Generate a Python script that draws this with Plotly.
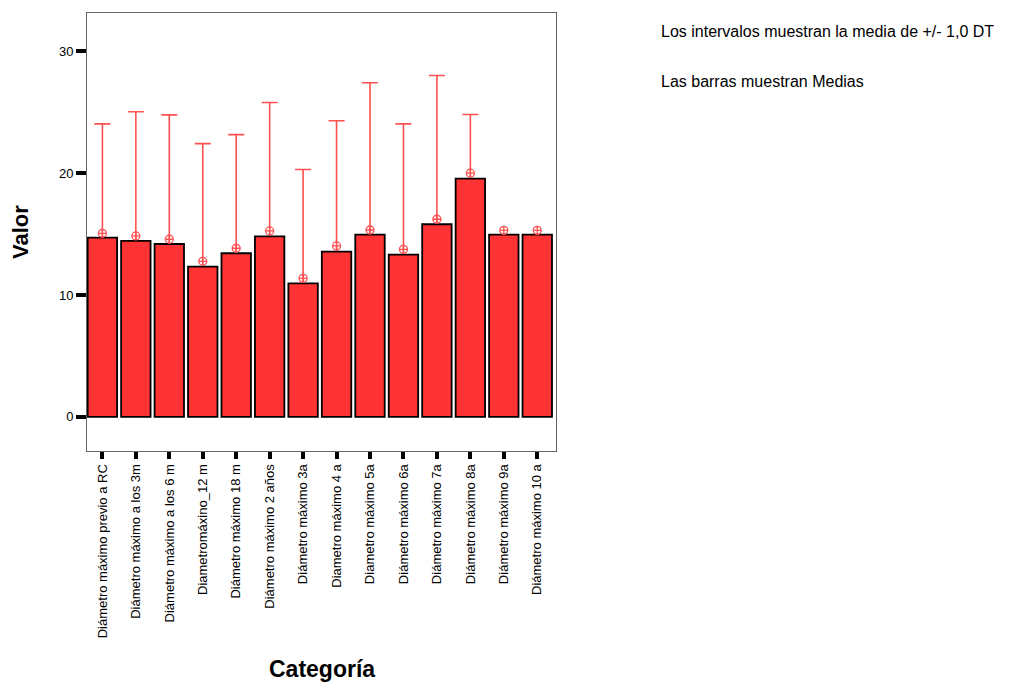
import plotly.graph_objects as go

categories = [
    "Diámetro máximo previo a RC",
    "Diámetro máximo a los 3m",
    "Diámetro máximo a los 6 m",
    "Diametromáxino_12 m",
    "Diámetro máximo 18 m",
    "Diámetro máximo 2 años",
    "Diámetro máximo 3a",
    "Diametro máximo 4 a",
    "Diametro máximo 5a",
    "Diámetro máximo 6a",
    "Diámetro máximo 7a",
    "Diámetro máximo 8a",
    "Diámetro máximo 9a",
    "Diámetro máximo 10 a",
]
bar_means = [14.71, 14.44, 14.19, 12.33, 13.43, 14.82, 10.96, 13.56, 14.96, 13.31, 15.81, 19.56, 14.96, 14.96]
point_means = [15.07, 14.85, 14.58, 12.77, 13.84, 15.26, 11.37, 14.03, 15.34, 13.75, 16.22, 20.00, 15.31, 15.31]
sd = [8.98, 10.19, 10.21, 9.66, 9.33, 10.54, 8.93, 10.27, 12.08, 10.30, 11.80, 4.82, None, None]

note_lines = ["Los intervalos muestran la media de +/- 1,0 DT", "Las barras muestran Medias"]

FONT = "Liberation Sans, Arial, sans-serif"
RED = "#ff3333"
ERR = "#ff5050"

err_idx = [i for i, v in enumerate(sd) if v is not None]

fig = go.Figure()
# error bars (+/- 1 SD), drawn behind the bars
fig.add_trace(go.Bar(
    x=[categories[i] for i in err_idx],
    y=[point_means[i] for i in err_idx],
    marker=dict(color="rgba(0,0,0,0)", line=dict(width=0)),
    error_y=dict(type="data", array=[sd[i] for i in err_idx], symmetric=True,
                 color=ERR, thickness=1.6, width=8),
    width=0.88, showlegend=False, hoverinfo="skip",
))
# bars
fig.add_trace(go.Bar(
    x=categories, y=bar_means,
    marker=dict(color=RED, line=dict(color="black", width=1.8)),
    width=0.88, showlegend=False,
))
# mean markers
fig.add_trace(go.Scatter(
    x=categories, y=point_means, mode="markers",
    marker=dict(symbol="circle-cross-open", size=8, color=ERR, line=dict(width=1.3)),
    showlegend=False,
))

annotations = [
    dict(text="<b>Valor</b>", xref="paper", yref="paper", x=-0.1429, y=0.50, textangle=-90,
         showarrow=False, font=dict(family=FONT, size=22, color="black"),
         xanchor="center", yanchor="middle"),
    dict(text="<b>Categoría</b>", xref="paper", yref="paper", x=0.5, y=-0.498,
         showarrow=False, font=dict(family=FONT, size=23, color="black"),
         xanchor="center", yanchor="middle"),
]
for k, line in enumerate(note_lines):
    annotations.append(dict(
        text=line, xref="paper", yref="paper", x=1.2196, y=[0.9589, 0.8425][k],
        showarrow=False, font=dict(family=FONT, size=16, color="black"),
        xanchor="left", yanchor="middle"))

fig.update_layout(
    width=1027, height=675,
    margin=dict(l=79, r=479, t=5, b=232, pad=0),
    paper_bgcolor="white", plot_bgcolor="white",
    barmode="overlay",
    font=dict(family=FONT, color="black"),
    annotations=annotations,
    xaxis=dict(
        type="category", range=[-0.46, 13.56],
        showline=True, mirror=True, linecolor="#666666", linewidth=1,
        ticks="outside", ticklen=7, tickwidth=3.5, tickcolor="black",
        tickangle=-90, tickfont=dict(family=FONT, size=13, color="black"),
        showgrid=False, zeroline=False,
    ),
    yaxis=dict(
        range=[-2.8, 33.15], tickvals=[0, 10, 20, 30],
        showline=True, mirror=True, linecolor="#666666", linewidth=1,
        ticks="outside", ticklen=10, tickwidth=3.5, tickcolor="black",
        tickfont=dict(family=FONT, size=13, color="black"),
        showgrid=False, zeroline=False,
    ),
)

fig.write_html("out.html")
